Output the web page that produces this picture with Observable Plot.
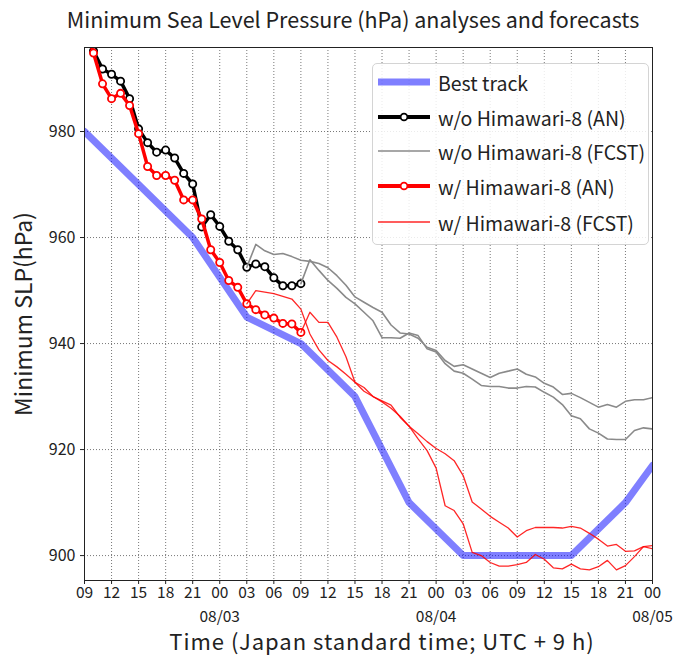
<!DOCTYPE html>
<html><head><meta charset="utf-8">
<script src="https://cdn.jsdelivr.net/npm/d3@7"></script>
<script src="https://cdn.jsdelivr.net/npm/@observablehq/plot@0.6"></script>
<style>
body{margin:0;background:#fff;font-family:"Noto Sans CJK JP","Noto Sans",sans-serif;}
#wrap{position:relative;width:675px;height:656px;overflow:hidden;}
#title{height:38px;line-height:38px;font-size:21.5px;color:#222;text-align:center;padding-left:31px;box-sizing:border-box;width:675px;white-space:nowrap;}
#legend{position:absolute;left:372px;top:63px;width:277px;height:182px;border:1px solid #d4d4d4;border-radius:5px;background:rgba(255,255,255,0.85);box-sizing:border-box;}
.row{position:absolute;left:4px;height:30px;display:flex;align-items:center;font-size:19.5px;color:#222;white-space:nowrap;}
.row svg{margin-right:7px;}
#xtitle{position:absolute;left:82px;width:600px;top:624px;height:32px;line-height:32px;text-align:center;font-size:22px;letter-spacing:1px;color:#222;white-space:nowrap;}
#ytitle{position:absolute;left:-128px;top:298px;width:300px;height:32px;line-height:32px;text-align:center;font-size:23px;color:#222;white-space:nowrap;transform:rotate(-90deg);}
</style></head>
<body>
<div id="wrap">
  <div id="title">Minimum Sea Level Pressure (hPa) analyses and forecasts</div>
  <div id="chart"></div>
  <div id="legend"></div>
  <div id="xtitle"></div>
  <div id="ytitle"></div>
</div>
<script>
// hours since 08/02 09 JST
const bestHours = [0, 6, 12, 18, 24, 30, 36, 42, 48, 54, 60, 63];
const bestSLP   = [980, 970, 960, 945, 940, 930, 910, 900, 900, 900, 910, 917];

const anHours = [0,1,2,3,4,5,6,7,8,9,10,11,12,13,14,15,16,17,18,19,20,21,22,23,24];
const anWithout = [1000,995.2,991.8,990.8,989.5,986.2,980.5,977.9,976.1,976.5,975.0,972.1,970.1,962.0,964.3,962.1,959.3,957.7,954.4,955.0,954.5,952.4,950.9,950.9,951.3];
const anWith    = [1000,994.8,989.0,986.2,987.2,984.9,979.6,973.4,971.7,971.7,970.8,967.1,967.1,963.5,957.7,955.3,951.9,950.6,947.5,946.4,945.4,944.8,943.8,943.7,942.1];

const fcstHours18 = [18,19,20,21,22,23,24,25,26,27,28,29,30,31,32,33,34,35,36,37,38,39,40,41,42,43,44,45,46,47,48,49,50,51,52,53,54,55,56,57,58,59,60,61,62,63];
const fcstHours24 = [24,25,26,27,28,29,30,31,32,33,34,35,36,37,38,39,40,41,42,43,44,45,46,47,48,49,50,51,52,53,54,55,56,57,58,59,60,61,62,63];

const fcstWithout18 = [954.4,958.7,957.5,956.8,957.0,956.4,955.7,955.5,955.1,954.3,952.8,951.0,948.8,947.8,946.8,945.9,943.5,942.0,941.8,941.0,939.3,938.7,936.8,935.7,936.0,935.2,934.4,933.6,934.4,934.8,935.2,934.2,933.7,932.5,931.8,930.4,930.6,929.8,928.9,928.0,928.5,928.0,929.1,929.4,929.4,929.8];
const fcstWithout24 = [951.3,955.8,953.8,951.9,950.4,948.7,947.5,945.9,944.3,941.1,941.1,941.0,942.0,941.5,939.0,938.4,936.2,934.8,934.4,933.3,932.1,931.9,931.9,931.6,931.6,931.9,931.8,930.8,929.9,928.5,926.4,925.8,923.9,923.1,922.0,921.9,921.9,923.6,924.1,923.9];
const fcstWith18 = [947.5,950.0,949.7,949.4,948.9,948.4,946.5,941.8,938.8,936.8,935.6,934.2,932.7,931.0,930.0,929.0,927.8,926.3,924.4,923.0,921.5,920.2,919.2,917.9,915.1,910.1,908.8,907.4,906.3,905.2,903.5,904.7,905.3,905.3,905.3,905.2,905.5,905.2,904.2,903.1,901.8,902.1,900.8,900.9,901.7,901.3];
const fcstWith24 = [942.1,945.9,944.0,944.0,941.2,937.5,932.7,931.7,930.0,929.2,928.4,926.1,924.4,922.0,919.8,916.5,909.4,908.5,906.0,900.6,900.0,898.7,898.0,898.0,898.3,898.7,900.2,899.3,897.7,897.5,898.4,897.5,897.3,897.9,899.1,897.3,898.1,899.8,901.7,901.9];

const xTickHours  = [0,3,6,9,12,15,18,21,24,27,30,33,36,39,42,45,48,51,54,57,60,63];
const xTickLabels = ["09","12","15","18","21","00","03","06","09","12","15","18","21","00","03","06","09","12","15","18","21","00"];
const dateTickHours = [15, 39, 63];
const dateLabels = ["08/03", "08/04", "08/05"];
const yTicks = [900, 920, 940, 960, 980];

const seriesNames = ["Best track","w/o Himawari-8 (AN)","w/o Himawari-8 (FCST)","w/ Himawari-8 (AN)","w/ Himawari-8 (FCST)"];
const xTitle = "Time (Japan standard time; UTC + 9 h)";
const yTitle = "Minimum SLP(hPa)";

const zip = (xs, ys) => xs.map((x, i) => ({x, y: ys[i]}));
const best = zip(bestHours, bestSLP);
const anWo = zip(anHours, anWithout);
const anW = zip(anHours, anWith);
const fWo18 = zip(fcstHours18, fcstWithout18);
const fWo24 = zip(fcstHours24, fcstWithout24);
const fW18 = zip(fcstHours18, fcstWith18);
const fW24 = zip(fcstHours24, fcstWith24);

const xLab = new Map(xTickHours.map((h, i) => [h, xTickLabels[i]]));
const dLab = new Map(dateTickHours.map((h, i) => [h, dateLabels[i]]));

const BLUE = "blue", GRAY = "#8a8a8a";
const gridStyle = {stroke: "#555", strokeOpacity: 1, strokeWidth: 0.8, strokeDasharray: "1,2"};

const chart = Plot.plot({
  width: 675, height: 618,
  marginTop: 9, marginBottom: 76, marginLeft: 84, marginRight: 23,
  style: {fontFamily: '"Noto Sans CJK JP","Noto Sans",sans-serif', fontSize: "15.5px", color: "#222", background: "white"},
  x: {domain: [0, 63]},
  y: {domain: [895.3, 995.85]},
  marks: [
    Plot.gridX(xTickHours, gridStyle),
    Plot.gridY(yTicks, gridStyle),
    Plot.line(best, {x: "x", y: "y", stroke: BLUE, strokeOpacity: 0.5, strokeWidth: 7, clip: true}),
    Plot.line(anWo, {x: "x", y: "y", stroke: "black", strokeWidth: 3.5, clip: true}),
    Plot.dot(anWo, {x: "x", y: "y", r: 3.6, fill: "white", stroke: "black", strokeWidth: 1.8, clip: true}),
    Plot.line(fWo18, {x: "x", y: "y", stroke: GRAY, strokeWidth: 1.6, clip: true}),
    Plot.line(fWo24, {x: "x", y: "y", stroke: GRAY, strokeWidth: 1.6, clip: true}),
    Plot.line(anW, {x: "x", y: "y", stroke: "red", strokeWidth: 3.5, clip: true}),
    Plot.dot(anW, {x: "x", y: "y", r: 3.6, fill: "white", stroke: "red", strokeWidth: 1.8, clip: true}),
    Plot.line(fW18, {x: "x", y: "y", stroke: "red", strokeOpacity: 0.85, strokeWidth: 1.3, clip: true}),
    Plot.line(fW24, {x: "x", y: "y", stroke: "red", strokeOpacity: 0.85, strokeWidth: 1.3, clip: true}),
    Plot.frame({stroke: "#222", strokeWidth: 1}),
    Plot.axisY(yTicks, {tickSize: 4, tickPadding: 5, label: null, fontSize: 16, tickFormat: d => String(d)}),
    Plot.axisX(xTickHours, {tickSize: 4, tickPadding: 2, label: null, tickFormat: d => xLab.get(d)}),
    Plot.axisX(dateTickHours, {tickSize: 0, tickPadding: 30, label: null, tickFormat: d => dLab.get(d)})
  ]
});
document.getElementById("chart").appendChild(chart);
document.getElementById("xtitle").textContent = xTitle;
document.getElementById("ytitle").textContent = yTitle;

// legend
const swatches = [
  {stroke: BLUE, opacity: 0.5, width: 7, marker: false},
  {stroke: "black", opacity: 1, width: 4, marker: true},
  {stroke: GRAY, opacity: 1, width: 1.6, marker: false},
  {stroke: "red", opacity: 1, width: 4, marker: true},
  {stroke: "red", opacity: 0.85, width: 1.3, marker: false}
];
const rowTops = [3, 38, 72, 107, 143];
const legend = document.getElementById("legend");
seriesNames.forEach((name, i) => {
  const s = swatches[i];
  const row = document.createElement("div");
  row.className = "row";
  row.style.top = rowTops[i] + "px";
  row.innerHTML = `<svg width="54" height="20"><line x1="1" x2="53" y1="10" y2="10" stroke="${s.stroke}" stroke-opacity="${s.opacity}" stroke-width="${s.width}"/>` +
    (s.marker ? `<circle cx="27" cy="10" r="3.4" fill="white" stroke="${s.stroke}" stroke-width="1.8"/>` : "") +
    `</svg><span></span>`;
  row.querySelector("span").textContent = name;
  legend.appendChild(row);
});
</script>
</body></html>
